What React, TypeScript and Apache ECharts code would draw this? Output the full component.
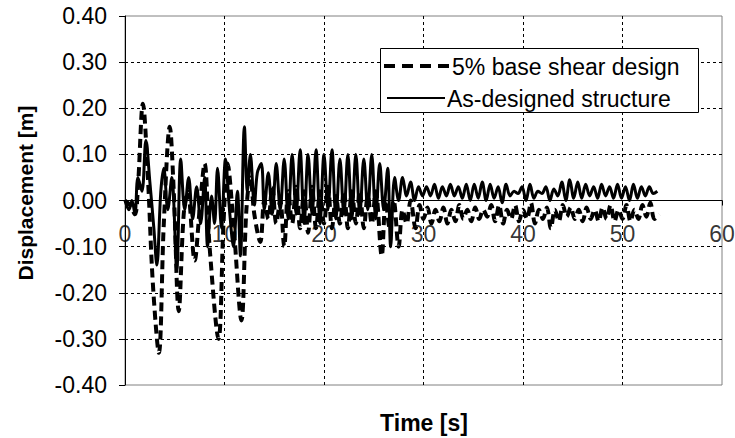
import React, { useEffect, useRef } from "react";
import * as echarts from "echarts";

const xTicks = [0, 10, 20, 30, 40, 50, 60];
const yTicks = [-0.4, -0.3, -0.2, -0.1, 0, 0.1, 0.2, 0.3, 0.4];
const seriesNames = ["5% base shear design", "As-designed structure"];
const xTitle = "Time [s]";
const yTitle = "Displacement [m]";

// 5% base shear design (dashed) [time s, displacement m]
const baseShear5: [number, number][] = [
  [0, 0], [0.5, -0.01], [1.0, -0.03], [1.3, 0.03], [1.8, 0.21], [2.3, 0.05], [2.8, -0.18], [3.4, -0.33],
  [3.9, -0.05], [4.5, 0.16], [4.9, 0.02], [5.4, -0.24], [5.9, -0.03], [6.3, 0.02], [7.0, -0.13], [7.5, -0.02],
  [8.0, 0.08], [8.5, -0.1], [9.4, -0.3], [9.9, -0.05], [10.3, 0.08], [10.9, -0.05], [11.7, -0.26], [12.2, -0.02],
  [12.6, 0.05], [13.0, -0.03], [13.6, -0.09], [14.0, 0.0], [14.4, -0.04], [14.8, 0.03], [15.2, -0.05], [15.6, 0.0],
  [16.0, -0.1], [16.4, 0.02], [16.8, -0.05], [17.2, 0.03], [17.6, -0.06], [18.0, 0.02], [18.4, -0.07], [18.8, 0.03],
  [19.2, -0.06], [19.6, 0.02], [20.0, -0.05], [20.4, 0.03], [20.8, -0.06], [21.2, 0.01], [21.6, -0.05], [22.0, 0.02],
  [22.4, -0.06], [22.8, 0.02], [23.2, -0.05], [23.6, 0.02], [24.0, -0.06], [24.4, 0.01], [24.8, -0.05], [25.2, 0.02],
  [25.8, -0.12], [26.2, 0.0], [26.6, -0.06], [27.0, 0.0], [27.5, -0.1], [27.9, -0.02], [28.3, -0.05], [28.7, 0.0],
  [29.2, -0.06], [29.6, -0.01], [30.0, -0.04], [30.4, -0.015], [30.8, -0.05], [31.2, -0.02], [31.6, -0.045], [32.0, -0.015],
  [32.4, -0.05], [32.8, -0.02], [33.2, -0.045], [33.6, -0.01], [34.0, -0.04], [34.4, -0.02], [34.8, -0.045], [35.2, -0.015],
  [35.6, -0.04], [36.0, -0.02], [36.4, -0.035], [36.8, -0.01], [37.2, -0.045], [37.6, -0.01], [38.0, -0.05], [38.4, -0.02],
  [38.8, -0.04], [39.2, -0.01], [39.6, -0.045], [40.0, -0.02], [40.4, -0.04], [40.8, -0.005], [41.2, -0.05], [41.6, -0.02],
  [42.0, -0.04], [42.4, -0.015], [42.8, -0.06], [43.2, -0.02], [43.6, -0.045], [44.0, -0.01], [44.4, -0.035], [44.8, -0.015],
  [45.2, -0.04], [45.6, -0.02], [46.0, -0.045], [46.4, -0.015], [46.8, -0.04], [47.2, -0.02], [47.6, -0.045], [48.0, -0.015],
  [48.4, -0.04], [48.8, -0.01], [49.2, -0.045], [49.6, -0.02], [50.0, -0.04], [50.4, -0.01], [50.8, -0.045], [51.2, -0.02],
  [51.6, -0.04], [52.0, -0.01], [52.4, -0.035], [52.8, -0.005], [53.2, -0.04], [53.7, -0.03],
];

// As-designed structure (solid) [time s, displacement m]
const asDesigned: [number, number][] = [
  [0, 0], [0.4, -0.02], [0.7, 0.0], [1.0, -0.03], [1.3, 0.05], [1.7, 0.02], [2.1, 0.13], [2.5, 0.04],
  [2.9, -0.06], [3.2, -0.14], [3.6, 0.02], [3.9, 0.07], [4.3, -0.02], [4.7, 0.05], [5.2, -0.15], [5.6, 0.09],
  [6.0, -0.02], [6.4, 0.05], [6.8, -0.04], [7.2, 0.03], [7.6, -0.05], [8.0, 0.05], [8.3, -0.1], [8.7, 0.01],
  [9.0, -0.05], [9.3, 0.07], [9.7, -0.06], [10.1, 0.09], [10.5, -0.02], [10.9, -0.1], [11.3, 0.02], [11.6, -0.12],
  [12.0, 0.16], [12.3, 0.02], [12.6, 0.1], [13.0, -0.01], [13.3, 0.06], [13.7, 0.08], [14.0, -0.02], [14.4, 0.06],
  [14.8, -0.03], [15.2, 0.08], [15.6, -0.02], [16.0, 0.09], [16.4, -0.04], [16.8, 0.1], [17.2, -0.03], [17.6, 0.11],
  [18.0, -0.05], [18.4, 0.1], [18.8, -0.03], [19.2, 0.11], [19.6, -0.05], [20.0, 0.1], [20.4, -0.02], [20.8, 0.11],
  [21.2, -0.04], [21.6, 0.09], [22.0, -0.03], [22.4, 0.1], [22.8, -0.04], [23.2, 0.1], [23.6, -0.03], [24.0, 0.09],
  [24.4, -0.02], [24.8, 0.1], [25.2, -0.04], [25.6, 0.08], [26.0, -0.02], [26.4, 0.07], [26.7, -0.1], [27.1, 0.05],
  [27.5, 0.0], [27.9, 0.05], [28.3, 0.01], [28.7, 0.04], [29.1, 0.0], [29.5, 0.03], [29.9, 0.01], [30.3, 0.03],
  [30.7, 0.01], [31.1, 0.035], [31.5, 0.005], [31.9, 0.03], [32.3, 0.01], [32.7, 0.035], [33.1, 0.01], [33.5, 0.03],
  [33.9, 0.005], [34.3, 0.035], [34.7, 0.0], [35.1, 0.035], [35.5, 0.005], [35.9, 0.04], [36.3, 0.0], [36.7, 0.035],
  [37.1, 0.005], [37.5, 0.03], [37.9, -0.005], [38.3, 0.035], [38.7, 0.01], [39.1, 0.02], [39.5, 0.015], [39.9, 0.03],
  [40.3, 0.0], [40.7, 0.035], [41.1, 0.005], [41.5, 0.02], [41.9, 0.015], [42.3, 0.03], [42.7, 0.0], [43.1, 0.025],
  [43.5, 0.01], [43.9, 0.04], [44.3, 0.0], [44.7, 0.045], [45.1, 0.005], [45.5, 0.04], [45.9, 0.005], [46.3, 0.035],
  [46.7, 0.01], [47.1, 0.03], [47.5, 0.005], [47.9, 0.035], [48.3, 0.01], [48.7, 0.03], [49.1, 0.005], [49.5, 0.035],
  [49.9, 0.005], [50.3, 0.03], [50.7, 0.0], [51.1, 0.035], [51.5, 0.005], [51.9, 0.03], [52.3, 0.01], [52.7, 0.03],
  [53.1, 0.015], [53.5, 0.02],
];

const FONT = "Arial, 'Liberation Sans', sans-serif";

export default function App() {
  const ref = useRef<HTMLDivElement>(null);
  useEffect(() => {
    if (!ref.current) return;
    const chart = echarts.init(ref.current, null, { renderer: "svg" });
    const gridDash = { color: "#000", width: 1, type: [3, 3] as number[] };
    chart.setOption({
      animation: false,
      backgroundColor: "#fff",
      grid: { left: 125, right: 13, top: 16, bottom: 53, show: true, borderColor: "#808080", borderWidth: 1 },
      xAxis: {
        type: "value",
        min: xTicks[0],
        max: xTicks[xTicks.length - 1],
        interval: 10,
        axisLine: { onZero: true, lineStyle: { color: "#000", width: 1 } },
        axisTick: { show: true, inside: false, length: 5, lineStyle: { color: "#000" } },
        axisLabel: { show: false },
        splitLine: { show: true, showMinLine: false, showMaxLine: false, lineStyle: gridDash },
      },
      yAxis: {
        type: "value",
        min: yTicks[0],
        max: yTicks[yTicks.length - 1],
        interval: 0.1,
        axisLine: { show: true, onZero: false, lineStyle: { color: "#000", width: 1 } },
        axisTick: { show: true, inside: false, length: 6, lineStyle: { color: "#000" } },
        axisLabel: {
          color: "#000", fontSize: 23, fontFamily: FONT, margin: 18,
          formatter: (v: number) => v.toFixed(2),
        },
        splitLine: { show: true, showMinLine: false, showMaxLine: false, lineStyle: gridDash },
      },
      series: [
        {
          name: seriesNames[0],
          type: "line",
          data: baseShear5,
          showSymbol: false,
          symbol: "none",
          smooth: 0.35,
          lineStyle: { color: "#000", width: 4, type: [9, 5] },
          z: 2,
        },
        {
          name: seriesNames[1],
          type: "line",
          data: asDesigned,
          showSymbol: false,
          symbol: "none",
          smooth: 0.35,
          lineStyle: { color: "#000", width: 3, type: "solid" },
          z: 3,
        },
        {
          name: "xTickLabels",
          type: "scatter",
          data: xTicks.map((t) => [t, 0]),
          symbolSize: 0,
          silent: true,
          z: 10,
          label: {
            show: true,
            position: "bottom",
            distance: 22,
            color: "#000",
            fontSize: 23,
            fontFamily: FONT,
            formatter: (p: any) => String(p.value[0]),
          },
        },
      ],
      graphic: [
        {
          type: "text", x: 25, y: 193, rotation: Math.PI / 2, z: 100,
          style: { text: yTitle, fill: "#000", fontSize: 21, fontWeight: "bold", fontFamily: FONT, textAlign: "center", textVerticalAlign: "middle" },
        },
        {
          type: "text", x: 424, y: 423, z: 100,
          style: { text: xTitle, fill: "#000", fontSize: 23, fontWeight: "bold", fontFamily: FONT, textAlign: "center", textVerticalAlign: "middle" },
        },
        {
          type: "rect", z: 100,
          shape: { x: 380.5, y: 48.5, width: 318, height: 64 },
          style: { fill: "#fff", stroke: "#000", lineWidth: 1 },
        },
        {
          type: "line", z: 101,
          shape: { x1: 384, y1: 66, x2: 450, y2: 66 },
          style: { stroke: "#000", lineWidth: 4, lineDash: [11, 7] },
        },
        {
          type: "text", x: 452, y: 67, z: 101,
          style: { text: seriesNames[0], fill: "#000", fontSize: 23, fontFamily: FONT, textAlign: "left", textVerticalAlign: "middle" },
        },
        {
          type: "line", z: 101,
          shape: { x1: 387, y1: 98, x2: 445, y2: 98 },
          style: { stroke: "#000", lineWidth: 2 },
        },
        {
          type: "text", x: 447, y: 99, z: 101,
          style: { text: seriesNames[1], fill: "#000", fontSize: 23, fontFamily: FONT, textAlign: "left", textVerticalAlign: "middle" },
        },
      ],
    });
    return () => chart.dispose();
  }, []);
  return <div ref={ref} style={{ position: "fixed", left: 0, top: 0, width: 735, height: 438 }} />;
}
